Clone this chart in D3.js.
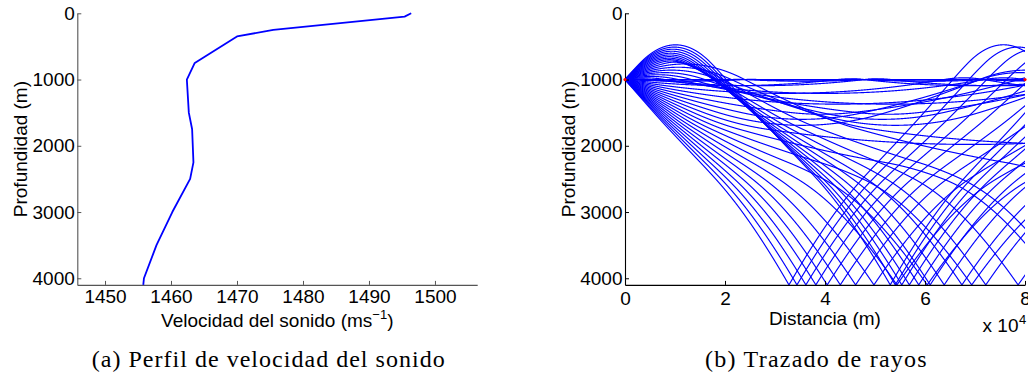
<!DOCTYPE html>
<html>
<head>
<meta charset="utf-8">
<script src="https://cdn.jsdelivr.net/npm/d3@7"></script>
<style>
  html, body { margin: 0; padding: 0; background: #fff; }
  svg { display: block; }
</style>
</head>
<body>
<svg id="fig" width="1028" height="381"></svg>
<script>
// Sound speed profile (depth in m, speed in m/s)
const depth = [0, 50, 250, 350, 750, 1000, 1500, 1750, 2250, 2500, 3000, 3500, 4000, 4100];
const speed = [1496.4, 1495.4, 1475.5, 1470.0, 1463.6, 1462.4, 1462.7, 1463.2, 1463.4, 1462.9, 1460.2, 1457.8, 1455.9, 1455.8];

// Axis ticks
const depthTicks = [0, 1000, 2000, 3000, 4000];
const speedTicks = [1450, 1460, 1470, 1480, 1490, 1500];
const rangeTicks = [0, 20000, 40000, 60000, 80000];
const rangeTickLabels = ["0", "2", "4", "6", "8"];

// Ray fan: source / receiver and launch angles (degrees, positive = downward)
const sourceDepth = 1000;
const sourceRange = 0;
const receiverDepth = 1000;
const receiverRange = 80000;
const maxRange = 80000;
const bottomDepth = 4100;
const launchAngles = [
  -5.00, -4.75, -4.50, -4.25, -4.00, -3.75, -3.50, -3.25, -3.00, -2.75,
  -2.50, -2.25, -2.00, -1.75, -1.50, -1.25, -1.00, -0.75, -0.50, -0.25,
   0.00,
   0.25,  0.50,  0.75,  1.00,  1.25,  1.50,  1.75,  2.00,  2.25,  2.50,
   2.75,  3.00,  3.25,  3.50,  3.75,  4.00,  4.25,  4.50,  4.75,  5.00
];

const svg = d3.select("#fig");
const FONT = "'Liberation Sans', Arial, Helvetica, sans-serif";
const FS = 19;
const intFmt = d3.format("d");

// ---------- shared depth scale ----------
const yTop = 13.3, yBot = 284.9;

// ---------- (a) sound speed profile ----------
const [cMin, cMax] = d3.extent(speed);
const xA = d3.scaleLinear().domain([cMin - 10, cMax + 10]).range([77.3, 477.2]);
const yA = d3.scaleLinear().domain([0, bottomDepth]).range([yTop, yBot]);

const gA = svg.append("g");

function styleAxis(g, color) {
  g.attr("font-family", FONT).attr("font-size", FS);
  g.select(".domain").attr("stroke", color).attr("stroke-width", 1.1);
  g.selectAll(".tick line").attr("stroke", color).attr("stroke-width", 1);
  g.selectAll(".tick text").attr("fill", "#000");
}

const axAx = gA.append("g")
  .attr("transform", `translate(0,${yBot})`)
  .call(d3.axisBottom(xA).tickValues(speedTicks).tickFormat(intFmt)
    .tickSizeInner(-4).tickSizeOuter(0).tickPadding(5));
styleAxis(axAx, "#555");

const axAy = gA.append("g")
  .attr("transform", `translate(${xA.range()[0]},0)`)
  .call(d3.axisLeft(yA).tickValues(depthTicks).tickFormat(intFmt)
    .tickSizeInner(-4).tickSizeOuter(0).tickPadding(2.5));
styleAxis(axAy, "#555");

const profile = depth.map((d, i) => [speed[i], d]);
gA.append("path")
  .datum(profile)
  .attr("fill", "none")
  .attr("stroke", "#0000ff")
  .attr("stroke-width", 1.8)
  .attr("stroke-linejoin", "round")
  .attr("d", d3.line().x(p => xA(p[0])).y(p => yA(p[1])));

gA.append("text")
  .attr("transform", `translate(26.5,${(yTop + yBot) / 2}) rotate(-90)`)
  .attr("text-anchor", "middle")
  .attr("font-family", FONT).attr("font-size", FS)
  .text("Profundidad (m)");

const xlabA = gA.append("text")
  .attr("x", (xA.range()[0] + xA.range()[1]) / 2)
  .attr("y", 327)
  .attr("text-anchor", "middle")
  .attr("font-family", FONT).attr("font-size", FS);
xlabA.append("tspan").text("Velocidad del sonido (ms");
xlabA.append("tspan").attr("font-size", 13).attr("dy", -8).text("\u22121");
xlabA.append("tspan").attr("dy", 8).text(")");

// ---------- (b) ray tracing ----------
const xB = d3.scaleLinear().domain([0, maxRange]).range([625, 1025]);
const yB = d3.scaleLinear().domain([0, bottomDepth]).range([yTop, yBot]);

// piecewise-linear sound speed and its gradient at depth z
function ssp(z) {
  let i = d3.bisectRight(depth, z) - 1;
  i = Math.max(0, Math.min(depth.length - 2, i));
  const g = (speed[i + 1] - speed[i]) / (depth[i + 1] - depth[i]);
  return { c: speed[i] + g * (z - depth[i]), g };
}

// integrate a ray (arc-length stepping, midpoint rule) with surface/bottom reflection
function traceRay(angleDeg) {
  const ds = 20;
  let x = sourceRange, z = sourceDepth, th = angleDeg * Math.PI / 180;
  const pts = [[x, z]];
  const f = (zz, tt) => {
    const s = ssp(Math.max(0, Math.min(bottomDepth, zz)));
    return [Math.cos(tt), Math.sin(tt), -(s.g / s.c) * Math.cos(tt)];
  };
  let n = 0;
  while (x < maxRange + 200 && n < 20000) {
    const k1 = f(z, th);
    const zm = z + 0.5 * ds * k1[1], tm = th + 0.5 * ds * k1[2];
    const k2 = f(zm, tm);
    x += ds * k2[0]; z += ds * k2[1]; th += ds * k2[2];
    if (z > bottomDepth) { z = 2 * bottomDepth - z; th = -th; }
    if (z < 0) { z = -z; th = -th; }
    pts.push([x, z]);
    n++;
  }
  return pts;
}

const gB = svg.append("g");
gB.append("clipPath").attr("id", "plotB")
  .append("rect")
  .attr("x", xB.range()[0]).attr("y", yTop)
  .attr("width", xB.range()[1] - xB.range()[0]).attr("height", yBot - yTop);

const rays = launchAngles.map(traceRay);
gB.append("g").attr("clip-path", "url(#plotB)")
  .selectAll("path").data(rays).join("path")
  .attr("fill", "none")
  .attr("stroke", "#0000ff")
  .attr("stroke-width", 1.15)
  .attr("d", d3.line().x(p => xB(p[0])).y(p => yB(p[1])));

const axBx = gB.append("g")
  .attr("transform", `translate(0,${yBot})`)
  .call(d3.axisBottom(xB).tickValues(rangeTicks).tickFormat((d, i) => rangeTickLabels[i])
    .tickSizeInner(-4).tickSizeOuter(0).tickPadding(7));
styleAxis(axBx, "#000");

const axBy = gB.append("g")
  .attr("transform", `translate(${xB.range()[0]},0)`)
  .call(d3.axisLeft(yB).tickValues(depthTicks).tickFormat(intFmt)
    .tickSizeInner(-4).tickSizeOuter(0).tickPadding(2.5));
styleAxis(axBy, "#000");

// source and receiver markers
gB.selectAll("circle.mark")
  .data([[sourceRange, sourceDepth], [receiverRange, receiverDepth]])
  .join("circle")
  .attr("class", "mark")
  .attr("cx", d => xB(d[0])).attr("cy", d => yB(d[1]))
  .attr("r", 1.6).attr("fill", "#ff0000");

gB.append("text")
  .attr("transform", `translate(575,${(yTop + yBot) / 2}) rotate(-90)`)
  .attr("text-anchor", "middle")
  .attr("font-family", FONT).attr("font-size", FS)
  .text("Profundidad (m)");

gB.append("text")
  .attr("x", (xB.range()[0] + xB.range()[1]) / 2)
  .attr("y", 324.5)
  .attr("text-anchor", "middle")
  .attr("font-family", FONT).attr("font-size", FS)
  .text("Distancia (m)");

gB.append("text")
  .attr("x", 1018.5).attr("y", 332)
  .attr("text-anchor", "end")
  .attr("font-family", FONT).attr("font-size", FS)
  .text("x 10");
gB.append("text")
  .attr("x", 1019).attr("y", 323.5)
  .attr("font-family", FONT).attr("font-size", 13)
  .text("4");

// ---------- captions ----------
const CAP = "'Liberation Serif', 'Times New Roman', serif";
svg.append("text")
  .attr("x", 91.7).attr("y", 367)
  .attr("font-family", CAP).attr("font-size", 24)
  .attr("textLength", 353).attr("lengthAdjust", "spacing")
  .text("(a) Perfil de velocidad del sonido");
svg.append("text")
  .attr("x", 705).attr("y", 367)
  .attr("font-family", CAP).attr("font-size", 24)
  .attr("textLength", 221.7).attr("lengthAdjust", "spacing")
  .text("(b) Trazado de rayos");
</script>
</body>
</html>
